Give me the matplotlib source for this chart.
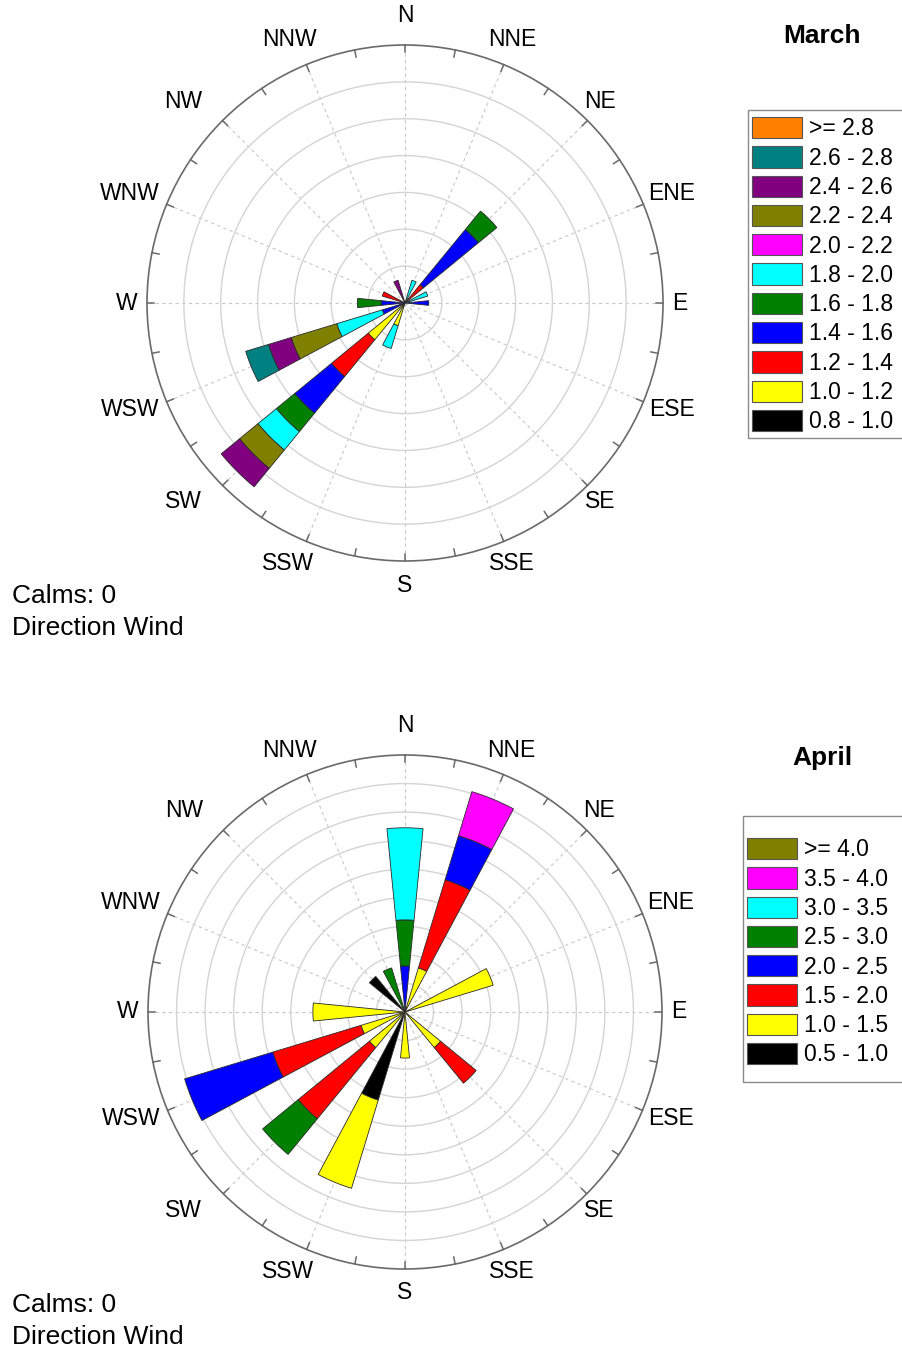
import numpy as np
import matplotlib.pyplot as plt
from matplotlib.patches import Patch, Rectangle

plt.rcParams['font.family'] = ['Liberation Sans', 'DejaVu Sans']

directions = ['N', 'NNE', 'NE', 'ENE', 'E', 'ESE', 'SE', 'SSE',
              'S', 'SSW', 'SW', 'WSW', 'W', 'WNW', 'NW', 'NNW']

# number of days per speed class (rows) and direction (columns, N..NNW)
march_bins = ['0.8 - 1.0', '1.0 - 1.2', '1.2 - 1.4', '1.4 - 1.6', '1.6 - 1.8', '1.8 - 2.0',
              '2.0 - 2.2', '2.2 - 2.4', '2.4 - 2.6', '2.6 - 2.8', '>= 2.8']
march_colors = ['black', '#ffff00', '#ff0000', '#0000ff', '#008000', '#00ffff',
                '#ff00ff', '#808000', '#800080', '#008080', '#ff8000']
march_counts = [
    [0, 0, 0, 0, 0, 0, 0, 0, 0, 0, 0, 0, 0, 0, 0, 0],
    [0, 0, 0, 0, 0, 0, 0, 0, 0, 1, 2, 0, 0, 0, 0, 0],
    [0, 0, 1, 0, 0, 0, 0, 0, 0, 0, 2, 0, 0, 1, 0, 0],
    [0, 0, 3, 0, 1, 0, 0, 0, 0, 0, 2, 1, 1, 0, 0, 0],
    [0, 0, 1, 0, 0, 0, 0, 0, 0, 0, 1, 0, 1, 0, 0, 0],
    [0, 1, 0, 1, 0, 0, 0, 0, 0, 1, 1, 2, 0, 0, 0, 0],
    [0, 0, 0, 0, 0, 0, 0, 0, 0, 0, 0, 0, 0, 0, 0, 0],
    [0, 0, 0, 0, 0, 0, 0, 0, 0, 0, 1, 2, 0, 0, 0, 0],
    [0, 0, 0, 0, 0, 0, 0, 0, 0, 0, 1, 1, 0, 0, 0, 1],
    [0, 0, 0, 0, 0, 0, 0, 0, 0, 0, 0, 1, 0, 0, 0, 0],
    [0, 0, 0, 0, 0, 0, 0, 0, 0, 0, 0, 0, 0, 0, 0, 0],
]

april_bins = ['0.5 - 1.0', '1.0 - 1.5', '1.5 - 2.0', '2.0 - 2.5', '2.5 - 3.0',
              '3.0 - 3.5', '3.5 - 4.0', '>= 4.0']
april_colors = ['black', '#ffff00', '#ff0000', '#0000ff', '#008000', '#00ffff',
                '#ff00ff', '#808000']
april_counts = [
    [0, 0, 0, 0, 0, 0, 0, 0, 0, 2, 0, 0, 0, 0, 1, 0],
    [0, 1, 0, 2, 0, 0, 1, 0, 1, 2, 1, 1, 2, 0, 0, 0],
    [0, 2, 0, 0, 0, 0, 1, 0, 0, 0, 2, 2, 0, 0, 0, 0],
    [1, 1, 0, 0, 0, 0, 0, 0, 0, 0, 0, 2, 0, 0, 0, 0],
    [1, 0, 0, 0, 0, 0, 0, 0, 0, 0, 1, 0, 0, 0, 0, 1],
    [2, 0, 0, 0, 0, 0, 0, 0, 0, 0, 0, 0, 0, 0, 0, 0],
    [0, 1, 0, 0, 0, 0, 0, 0, 0, 0, 0, 0, 0, 0, 0, 0],
    [0, 0, 0, 0, 0, 0, 0, 0, 0, 0, 0, 0, 0, 0, 0, 0],
]

# label centres relative to the rose centre, in px for an outer radius of 258 px
label_xy = [(0, -288), (107, -263), (195, -202), (267, -110), (275, 0), (267, 107),
            (195, 199), (107, 261), (0, 282), (-117, 261), (-222, 199), (-275, 107),
            (-278, 0), (-275, -110), (-222, -202), (-116, -263)]


def rose(ax, counts, colors, rstep, nrings):
    theta = np.deg2rad(np.arange(16) * 22.5)
    width = np.deg2rad(11.25)
    total = np.sum(counts)
    bottom = np.zeros(16)
    for c, col in zip(counts, colors):
        pct = np.array(c) / total * 100
        m = pct > 0
        if m.any():
            ax.bar(theta[m], pct[m], width=width, bottom=bottom[m], color=col,
                   edgecolor='#2a2a2a', linewidth=0.6, zorder=3)
        bottom += pct
    rmax = rstep * nrings
    ax.set_theta_zero_location('N')
    ax.set_theta_direction(-1)
    ax.set_ylim(0, rmax)
    ax.set_yticks(np.arange(1, nrings) * rstep)
    ax.set_yticklabels([])
    ax.set_xticks(theta)
    ax.set_xticklabels([])
    ax.tick_params(axis='x', length=0)
    ax.yaxis.grid(True, color='#d4d4d4', linestyle='-', linewidth=1.0)
    ax.xaxis.grid(True, color='#c8c8c8', linestyle=(0, (3, 3)), linewidth=0.8)
    ax.spines['polar'].set_color('#6a6a6a')
    ax.spines['polar'].set_linewidth(1.2)
    ax.set_axisbelow(True)
    # short inward ticks on the outer circle every 11.25 degrees
    for t in np.deg2rad(np.arange(32) * 11.25):
        ax.plot([t, t], [rmax * 0.972, rmax], color='#6a6a6a', linewidth=1.1,
                zorder=4, clip_on=False)
    for name, (dx, dy) in zip(directions, label_xy):
        ang = np.arctan2(dx, -dy)
        r = np.hypot(dx, dy) / 258 * rmax
        ax.text(ang, r, name, ha='center', va='center', fontsize=16.5, clip_on=False)


def legend(fig, bins, colors, x, y, box):
    handles = [Patch(facecolor=c, edgecolor='#555555', linewidth=0.8) for c in colors][::-1]
    fig.legend(handles, bins[::-1], loc='upper left', bbox_to_anchor=(x / W, 1 - y / H),
               frameon=False, fontsize=16.5,
               handlelength=2.2, handleheight=1.05, labelspacing=0.255,
               handletextpad=0.3, borderpad=0, borderaxespad=0)
    x0, y0, x1, y1 = box
    fig.add_artist(Rectangle((x0 / W, 1 - y1 / H), (x1 - x0) / W, (y1 - y0) / H,
                             transform=fig.transFigure, fill=False,
                             edgecolor='#8a8a8a', linewidth=1.0))


W, H = 902, 1350
fig = plt.figure(figsize=(W / 100, H / 100), dpi=100)

ax1 = fig.add_axes([(405 - 258) / W, 1 - (303 + 258) / H, 516 / W, 516 / H], projection='polar')
rose(ax1, march_counts, march_colors, 5, 7)
legend(fig, march_bins, march_colors, 752, 117, (748, 110, 910, 438))
fig.text(822 / W, 1 - 36 / H, 'March', ha='center', va='center', fontsize=19, fontweight='bold')
fig.text(12 / W, 1 - 596 / H, 'Calms: 0', ha='left', va='center', fontsize=19)
fig.text(12 / W, 1 - 628 / H, 'Direction Wind', ha='left', va='center', fontsize=19)

ax2 = fig.add_axes([(405 - 257) / W, 1 - (1012 + 257) / H, 514 / W, 514 / H], projection='polar')
rose(ax2, april_counts, april_colors, 2, 9)
legend(fig, april_bins, april_colors, 747, 838, (743, 816, 910, 1082))
fig.text(822 / W, 1 - 758 / H, 'April', ha='center', va='center', fontsize=19, fontweight='bold')
fig.text(12 / W, 1 - 1305 / H, 'Calms: 0', ha='left', va='center', fontsize=19)
fig.text(12 / W, 1 - 1337 / H, 'Direction Wind', ha='left', va='center', fontsize=19)

fig.savefig('out.png', dpi=100)
